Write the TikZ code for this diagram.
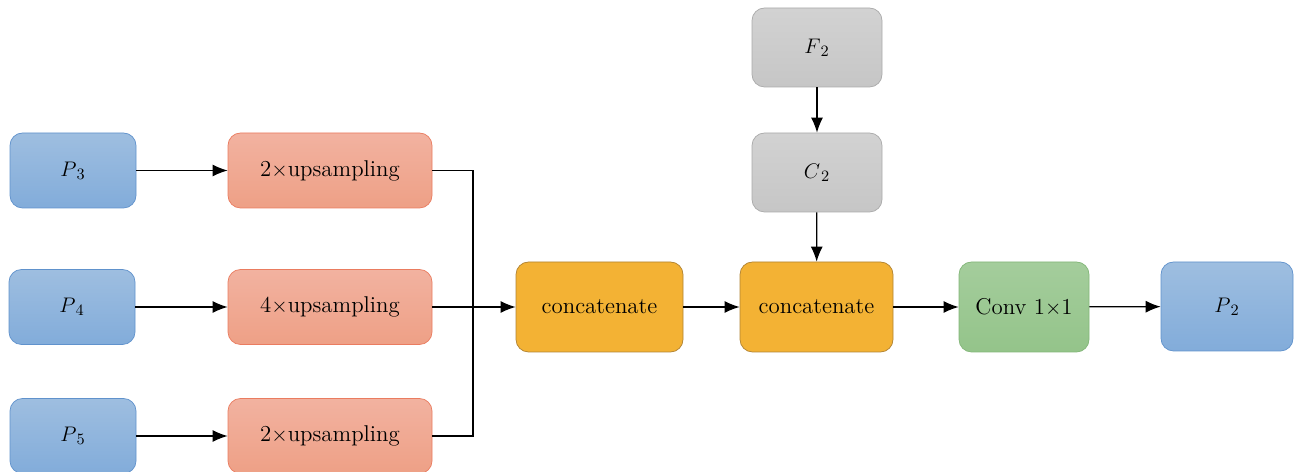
\documentclass[tikz,border=0pt]{standalone}
\usepackage{amsmath}
\usepackage{tikz}
\usetikzlibrary{arrows.meta, positioning}

\definecolor{blueedge}{RGB}{96,146,204}
\definecolor{bluetop}{RGB}{158,190,224}
\definecolor{bluebot}{RGB}{130,172,218}
\definecolor{rededge}{RGB}{234,124,96}
\definecolor{redtop}{RGB}{242,178,160}
\definecolor{redbot}{RGB}{238,160,134}
\definecolor{yeledge}{RGB}{176,130,50}
\definecolor{yelfill}{RGB}{243,178,52}
\definecolor{grayedge}{RGB}{170,170,170}
\definecolor{graytop}{RGB}{210,210,210}
\definecolor{graybot}{RGB}{198,198,198}
\definecolor{greenedge}{RGB}{130,182,120}
\definecolor{greentop}{RGB}{164,205,156}
\definecolor{greenbot}{RGB}{148,196,138}

\begin{document}
\begin{tikzpicture}[
    feat/.style={draw=blueedge, top color=bluetop, bottom color=bluebot, rounded corners=0.25cm, minimum width=2.52cm, minimum height=1.5cm, font=\fontsize{13}{15}\selectfont},
    upbox/.style={draw=rededge, top color=redtop, bottom color=redbot, rounded corners=0.25cm, minimum width=4.08cm, minimum height=1.5cm, font=\fontsize{13}{15}\selectfont},
    catbox/.style={draw=yeledge, fill=yelfill, rounded corners=0.25cm, minimum height=1.8cm, font=\fontsize{13}{15}\selectfont},
    graybox/.style={draw=grayedge, top color=graytop, bottom color=graybot, rounded corners=0.25cm, minimum width=2.6cm, minimum height=1.58cm, font=\fontsize{13}{15}\selectfont},
    convbox/.style={draw=greenedge, top color=greentop, bottom color=greenbot, rounded corners=0.25cm, minimum width=2.6cm, minimum height=1.8cm, font=\fontsize{13}{15}\selectfont},
    arr/.style={-{Latex[length=3mm, width=2.4mm]}, line width=0.7pt},
    lin/.style={line width=0.7pt}
]
    \useasboundingbox (0,0) rectangle (25.94,9.44);

    % inputs
    \node[feat] (p3) at (1.46,6.03) {$P_{\,3}$};
    \node[feat] (p4) at (1.44,3.30) {$P_{\,4}$};
    \node[feat] (p5) at (1.46,0.72) {$P_{\,5}$};

    % upsampling
    \node[upbox] (up1) at (6.60,6.03) {2$\times$upsampling};
    \node[upbox] (up2) at (6.60,3.30) {4$\times$upsampling};
    \node[upbox] (up3) at (6.60,0.72) {2$\times$upsampling};

    % merging
    \node[catbox, minimum width=3.34cm] (cat1) at (11.99,3.30) {concatenate};
    \node[catbox, minimum width=3.06cm] (cat2) at (16.33,3.30) {concatenate};
    \node[graybox] (f2) at (16.34,8.49) {$F_{\,2}$};
    \node[graybox] (c2) at (16.34,5.99) {$C_{\,2}$};
    \node[convbox] (conv) at (20.48,3.30) {Conv 1$\times$1};
    \node[feat, minimum width=2.64cm, minimum height=1.78cm] (p2) at (24.54,3.31) {$P_{\,2}$};

    \coordinate (jtop) at (9.46,6.03);
    \coordinate (jbot) at (9.46,0.72);

    \draw[arr] (p3) -- (up1);
    \draw[arr] (p4) -- (up2);
    \draw[arr] (p5) -- (up3);
    \draw[lin] (up1.east) -- (jtop) -- (jbot) -- (up3.east);
    \draw[arr] (up2) -- (cat1);
    \draw[arr] (cat1) -- (cat2);
    \draw[arr] (f2) -- (c2);
    \draw[arr] (c2) -- (cat2);
    \draw[arr] (cat2) -- (conv);
    \draw[arr] (conv) -- (p2);
\end{tikzpicture}
\end{document}
